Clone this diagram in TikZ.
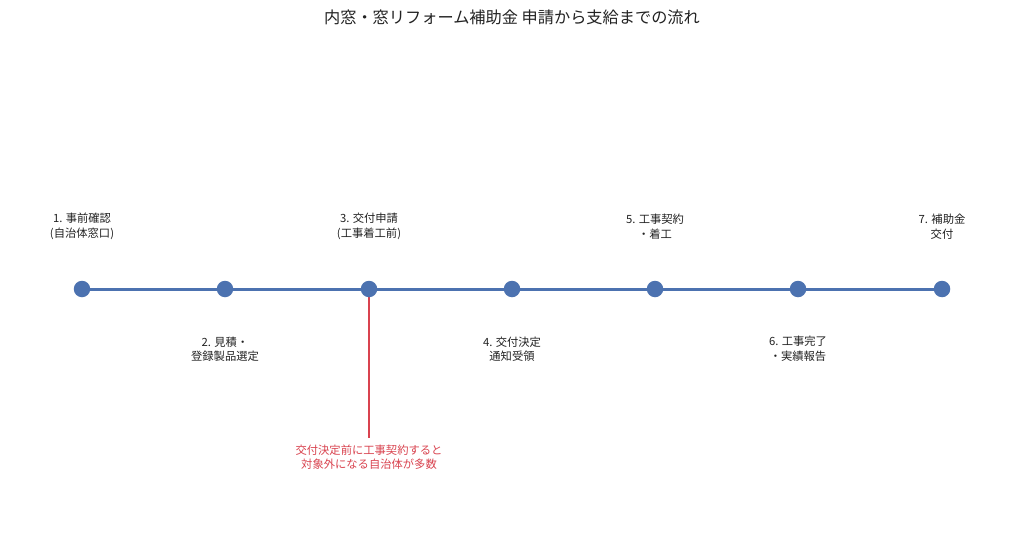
\documentclass[tikz,border=0pt]{standalone}
\usepackage{fontspec}
\setmainfont{Noto Sans CJK JP}
\definecolor{dotblue}{HTML}{4C72B0}
\definecolor{notered}{HTML}{D9434F}
\definecolor{txt}{HTML}{222222}
\begin{document}
\begin{tikzpicture}[x=1pt,y=-1pt,
  stepdot/.style={circle,fill=dotblue,inner sep=0pt,minimum size=16.5pt},
  steplabel/.style={align=center,font=\fontsize{11.3}{14.5}\selectfont,text=txt,inner sep=0pt},
  notelabel/.style={align=center,font=\fontsize{11.3}{14.5}\selectfont,text=notered,inner sep=0pt},
  timeline/.style={draw=dotblue,line width=3pt},
  noteline/.style={color=notered,line width=1.1pt}]
\useasboundingbox[fill=white] (0,0) rectangle (1024,559);
\node[font=\fontsize{16.2}{19}\selectfont,text=txt] (title) at (512,17) {内窓・窓リフォーム補助金 申請から支給までの流れ};
\coordinate (p1) at (82,289);
\coordinate (p2) at (225,289);
\coordinate (p3) at (369,289);
\coordinate (p4) at (512,289);
\coordinate (p5) at (655,289);
\coordinate (p6) at (798,289);
\coordinate (p7) at (942,289);
\draw[timeline] (p1) -- (p7);
\coordinate (noteend) at (369,438);
\path[noteline,draw=notered] (p3) -- (noteend);
\foreach \i in {1,...,7} {\node[stepdot] (d\i) at (p\i) {};}
\node[steplabel] (l1) at (82,226.5) {1. 事前確認\\(自治体窓口)};
\node[steplabel] (l2) at (225,349) {2. 見積・\\登録製品選定};
\node[steplabel] (l3) at (369,226.5) {3. 交付申請\\(工事着工前)};
\node[steplabel] (l4) at (512,349) {4. 交付決定\\通知受領};
\node[steplabel] (l5) at (655,226.5) {5. 工事契約\\・着工};
\node[steplabel] (l6) at (798,349) {6. 工事完了\\・実績報告};
\node[steplabel] (l7) at (942,226.5) {7. 補助金\\交付};
\node[notelabel] (note) at (369,457) {交付決定前に工事契約すると\\対象外になる自治体が多数};
\end{tikzpicture}
\end{document}
